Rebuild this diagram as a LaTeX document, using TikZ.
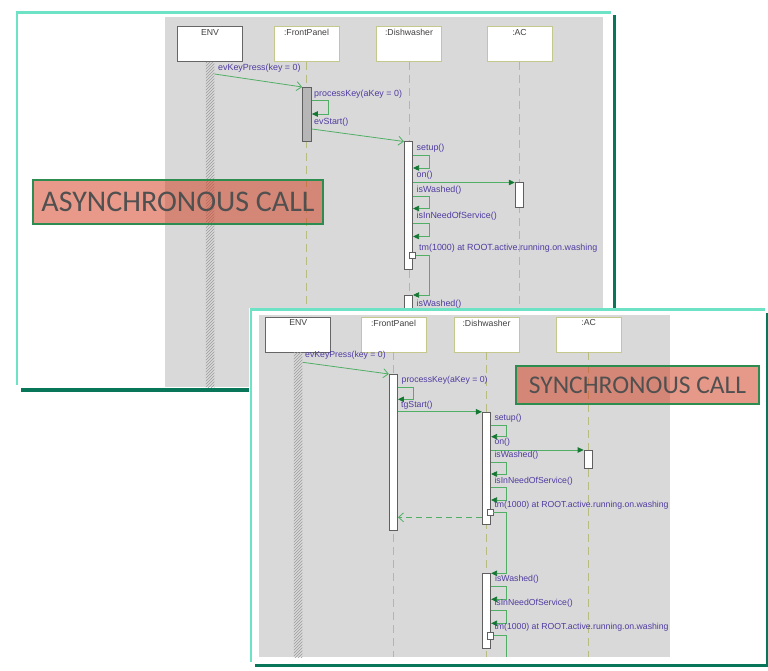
\documentclass[tikz,border=0pt]{standalone}
\usepackage{fontspec}
\setmainfont{Liberation Sans}
\newfontfamily\callfont{Carlito}
\usetikzlibrary{arrows.meta,patterns}

\definecolor{frameteal}{RGB}{110,226,196}
\definecolor{framedark}{RGB}{8,118,88}
\definecolor{panelgray}{RGB}{218,217,218}
\definecolor{khaki}{RGB}{196,200,140}
\definecolor{lifekhaki}{RGB}{184,188,128}
\definecolor{msggreen}{RGB}{80,175,100}
\definecolor{tipgreen}{RGB}{20,120,50}
\definecolor{msgtext}{RGB}{80,60,160}
\definecolor{actborder}{RGB}{95,95,95}
\definecolor{actgray}{RGB}{182,182,182}
\definecolor{hatchgray}{RGB}{155,155,155}
\definecolor{salmon}{RGB}{210,60,30}
\definecolor{callgreen}{RGB}{45,140,80}
\definecolor{calltext}{RGB}{80,80,80}

\tikzset{
  frameL/.style={draw=frameteal, line width=3.3pt},
  frameD/.style={draw=framedark, line width=3.2pt},
  hdr/.style={draw=khaki, fill=white, line width=0.9pt, minimum width=65pt,
    minimum height=35pt, inner sep=0pt,
    label={[anchor=north, inner sep=3pt, text=black!75,
      font=\fontsize{8.7}{9}\selectfont]north:{#1}}},
  envhdr/.style={hdr=#1, draw=black!60},
  envbar/.style={pattern=north east lines, pattern color=hatchgray,
    minimum width=8.5pt, inner sep=0pt, anchor=north},
  life/.style={draw=lifekhaki, line width=0.9pt, dash pattern=on 8pt off 5pt},
  act/.style={draw=actborder, fill=white, line width=0.7pt, minimum width=8.4pt,
    inner sep=0pt, anchor=north},
  msg/.style={anchor=west, text=msgtext, inner sep=0pt},
  sendmsg/.style={draw=msggreen, line width=0.8pt,
    -{Straight Barb[length=5pt,width=9pt,line width=0.8pt]}},
  callmsg/.style={draw=msggreen, line width=0.8pt,
    -{Triangle[length=6pt,width=5.5pt,fill=tipgreen,color=tipgreen]}},
  replymsg/.style={sendmsg, dash pattern=on 6pt off 4pt},
  tmbox/.style={draw=actborder, fill=white, line width=0.6pt, minimum size=6.3pt,
    inner sep=0pt},
  callbox/.style={draw=callgreen, line width=2.5pt, fill=salmon,
    fill opacity=0.52, text opacity=1, text=calltext, inner sep=0pt}
}

\begin{document}
\begin{tikzpicture}[x=1pt, y=-1pt]
\useasboundingbox (0,0) rectangle (768,671);

% ---------------- asynchronous variant ----------------
\fill[panelgray] (165,17) rectangle (603,387);
\draw[frameL] (16,12.3) -- (611,12.3);
\draw[frameL, line width=2.4pt] (17.2,11) -- (17.2,385);
\draw[frameD, line width=3pt] (614.5,15) -- (614.5,330);
\draw[frameD] (21,390) -- (300,390);

\begin{scope}[font=\fontsize{8.9}{9}\selectfont]
\node[envhdr=ENV] (envA) at (210,44) {};
\node[hdr=:FrontPanel] (fpA) at (306.5,44) {};
\node[hdr=:Dishwasher] (dwA) at (409,44) {};
\node[hdr=:AC] (acA) at (519.5,44) {};

\node[envbar, minimum height=325pt] (envLA) at (envA.south) {};
\draw[life] (fpA.south) -- (fpA.south |- 0,387);
\draw[life] (dwA.south) -- (dwA.south |- 0,387);
\draw[life] (acA.south) -- (acA.south |- 0,387);

\node[act, fill=actgray, minimum width=9pt, minimum height=54.5pt] (fpA1) at (307,87) {};
\node[act, minimum height=127pt] (dwA1) at (408.5,141.5) {};
\node[act, minimum height=25pt] (acA1) at (519.3,182.5) {};
\node[act, minimum height=60pt] (dwA2) at (408.5,295) {};

\node[msg] (mA1) at (218,68) {evKeyPress(key = 0)};
\draw[sendmsg] (envLA.east |- 0,74) -- (fpA1.north west);

\node[msg] (mA2) at (314,94) {processKey(aKey = 0)};
\draw[callmsg] (fpA1.east |- 0,100) -- ++(16.5,0) |- (fpA1.east |- 0,114);

\node[msg] (mA3) at (314,122) {evStart()};
\draw[sendmsg] (fpA1.east |- 0,129) -- (dwA1.north west);

\node[msg] (mA4) at (416.5,148) {setup()};
\draw[callmsg] (dwA1.east |- 0,155) -- ++(16.5,0) |- (dwA1.east |- 0,168);

\node[msg] (mA5) at (416.5,175) {on()};
\draw[callmsg] (dwA1.east |- 0,182.5) -- (acA1.north west);

\node[msg] (mA6) at (416.5,190) {isWashed()};
\draw[callmsg] (dwA1.east |- 0,196) -- ++(16.5,0) |- (dwA1.east |- 0,208.5);

\node[msg] (mA7) at (416.5,216.5) {isInNeedOfService()};
\draw[callmsg] (dwA1.east |- 0,223.5) -- ++(16.5,0) |- (dwA1.east |- 0,236.5);

\node[msg] (mA8) at (419,248.5) {tm(1000) at ROOT.active.running.on.washing};
\node[tmbox] (tmA1) at (412.3,255) {};
\draw[callmsg] (tmA1.east) -- ++(13.7,0) |- (dwA2.north east);

\node[msg] (mA9) at (416.5,304) {isWashed()};
\end{scope}

\node[callbox, minimum width=290pt, minimum height=44pt,
  font=\callfont\fontsize{30}{30}\selectfont] (async) at (178,202) {ASYNCHRONOUS CALL};

% ---------------- synchronous variant ----------------
\fill[white] (249,308) rectangle (768,671);
\fill[panelgray] (259,315) rectangle (670,657);
\draw[frameL] (249.5,309.3) -- (765,309.3);
\draw[frameL, line width=2.6pt] (250.8,308) -- (250.8,662);
\draw[frameD, line width=2.4pt] (766.8,313) -- (766.8,666);
\draw[frameD] (255,665.5) -- (768,665.5);

\begin{scope}[font=\fontsize{8.7}{9}\selectfont]
\node[envhdr=ENV] (envB) at (298.2,334.5) {};
\node[hdr=:FrontPanel] (fpB) at (393.5,334.5) {};
\node[hdr=:Dishwasher] (dwB) at (486.5,334.5) {};
\node[hdr=:AC] (acB) at (588.7,334.5) {};

\node[envbar, minimum height=305pt] (envLB) at (envB.south) {};
\draw[life] (fpB.south) -- (fpB.south |- 0,657);
\draw[life] (dwB.south) -- (dwB.south |- 0,657);
\draw[life] (acB.south) -- (acB.south |- 0,657);

\node[act, minimum height=156pt] (fpB1) at (393.4,374) {};
\node[act, minimum height=111.7pt] (dwB1) at (486.5,412.3) {};
\node[act, minimum height=18.3pt] (acB1) at (588.2,450) {};
\node[act, minimum height=75pt] (dwB2) at (486.5,573.3) {};

\node[msg] (mB1) at (305,355.7) {evKeyPress(key = 0)};
\draw[sendmsg] (envLB.east |- 0,362.3) -- (fpB1.north west);

\node[msg] (mB2) at (401.5,380) {processKey(aKey = 0)};
\draw[callmsg] (fpB1.east |- 0,387.7) -- ++(15.8,0) |- (fpB1.east |- 0,399.3);

\node[msg] (mB3) at (401,405) {tgStart()};
\draw[callmsg] (fpB1.east |- 0,411.8) -- (dwB1.west |- 0,411.8);

\node[msg] (mB4) at (494.3,418.3) {setup()};
\draw[callmsg] (dwB1.east |- 0,425) -- ++(15.3,0) |- (dwB1.east |- 0,436.7);

\node[msg] (mB5) at (494.3,442.7) {on()};
\draw[callmsg] (dwB1.east |- 0,450) -- (acB1.north west);

\node[msg] (mB6) at (494.3,455) {isWashed()};
\draw[callmsg] (dwB1.east |- 0,462.7) -- ++(15.3,0) |- (dwB1.east |- 0,474);

\node[msg] (mB7) at (494.3,481) {isInNeedOfService()};
\draw[callmsg] (dwB1.east |- 0,487.7) -- ++(15.3,0) |- (dwB1.east |- 0,500);

\node[msg] (mB8) at (494.3,505.7) {tm(1000) at ROOT.active.running.on.washing};
\node[tmbox] (tmB1) at (490,512.2) {};
\draw[callmsg] (tmB1.east) -- ++(12.7,0) |- (dwB2.north east);

\draw[replymsg] (dwB1.west |- 0,517.3) -- (fpB1.east |- 0,517.3);

\node[msg] (mB9) at (495,579.3) {isWashed()};
\draw[callmsg] (dwB2.east |- 0,586) -- ++(15.3,0) |- (dwB2.east |- 0,599.3);

\node[msg] (mB10) at (494.3,603.3) {isInNeedOfService()};
\draw[callmsg] (dwB2.east |- 0,610.7) -- ++(15.3,0) |- (dwB2.east |- 0,623.3);

\node[msg] (mB11) at (494.3,627.3) {tm(1000) at ROOT.active.running.on.washing};
\node[tmbox] (tmB2) at (490.3,635.7) {};
\coordinate (tmB2end) at (506,657);
\draw[draw=msggreen, line width=0.8pt] (tmB2.east) -- (tmB2.east -| tmB2end) -- (tmB2end);
\end{scope}

\node[callbox, minimum width=243pt, minimum height=38pt,
  font=\callfont\fontsize{25.5}{26}\selectfont] (sync) at (637.5,385) {SYNCHRONOUS CALL};
\end{tikzpicture}
\end{document}
